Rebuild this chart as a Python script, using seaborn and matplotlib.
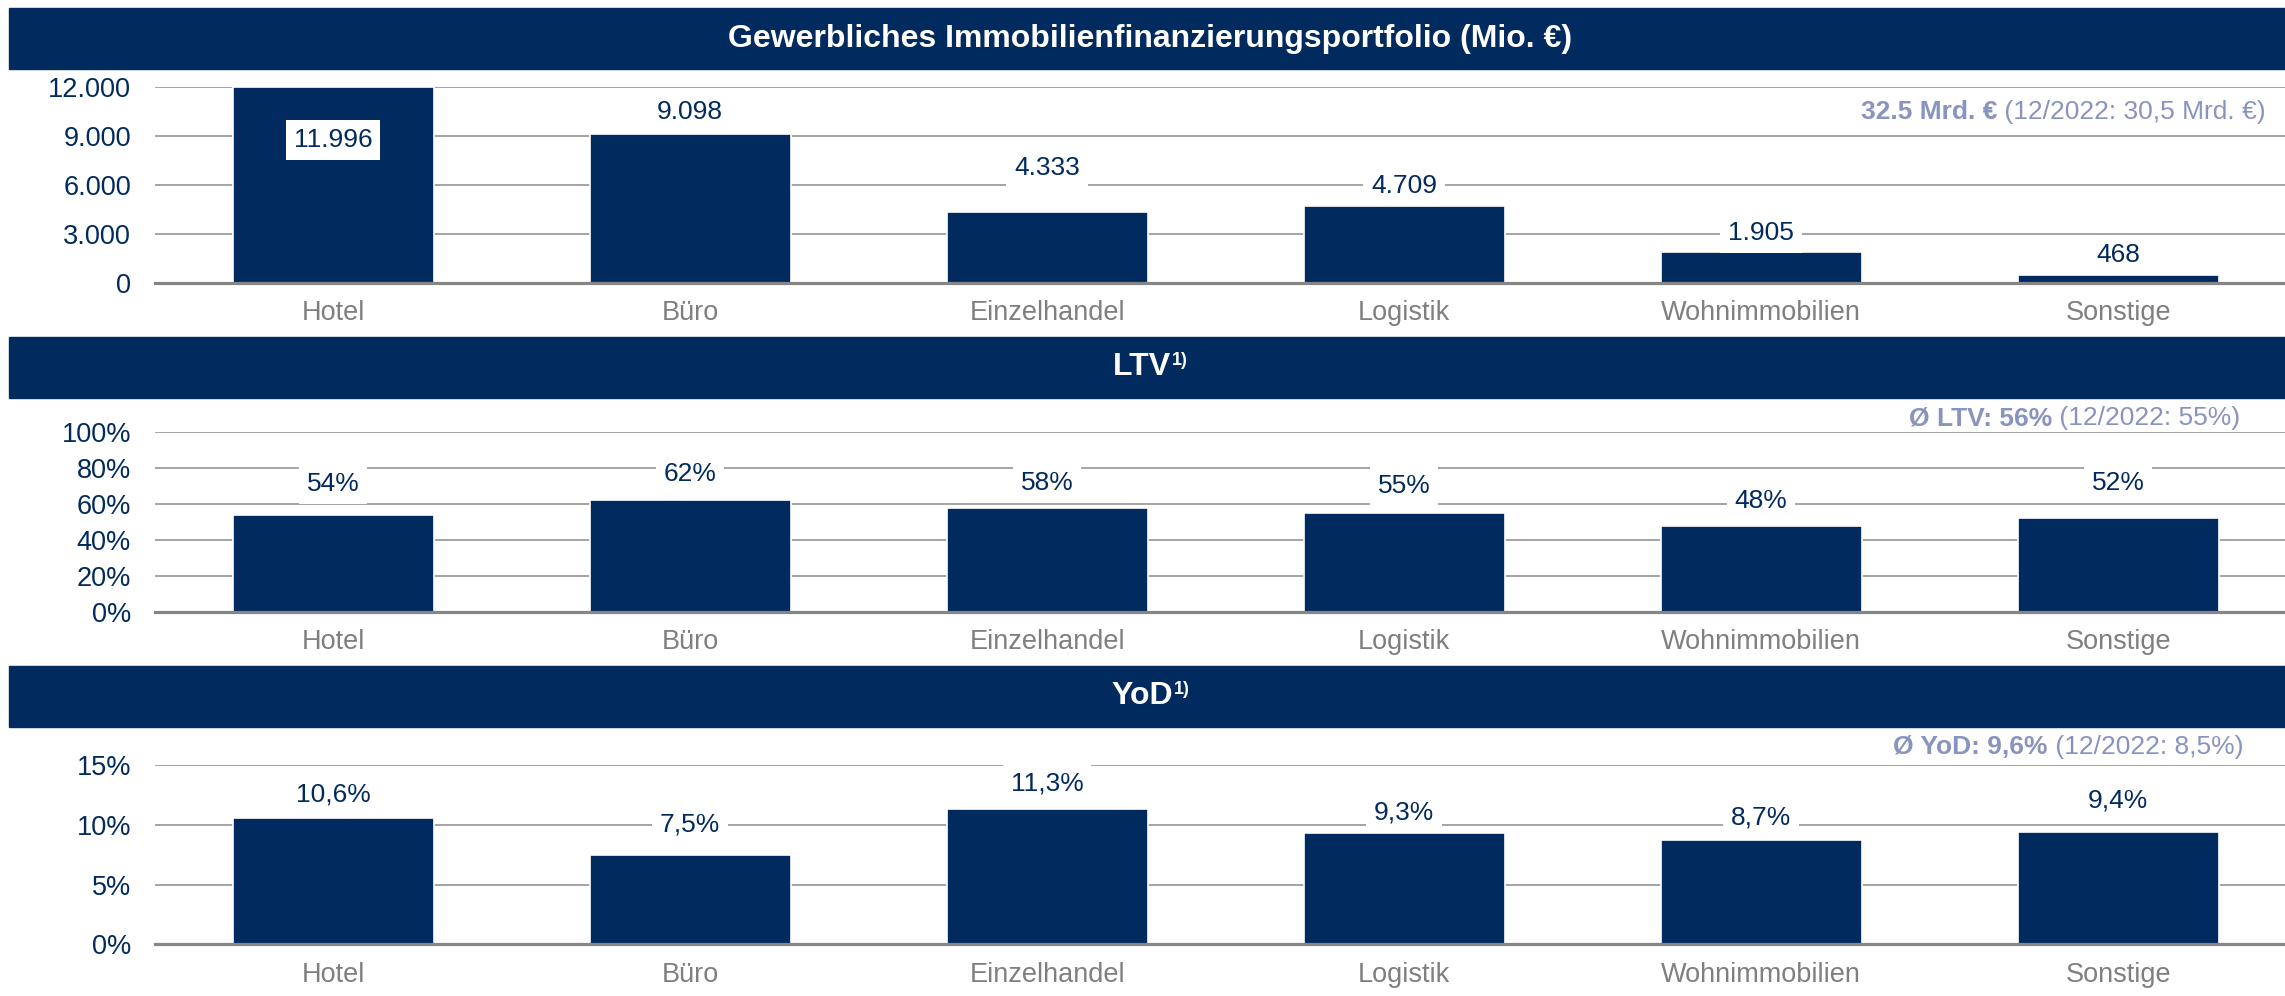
import numpy as np
import matplotlib
matplotlib.use("Agg")
import matplotlib.pyplot as plt
from matplotlib.patches import Rectangle
import seaborn as sns

# ---- data -------------------------------------------------------------
categories = ["Hotel", "Büro", "Einzelhandel", "Logistik", "Wohnimmobilien", "Sonstige"]

portfolio_mio = [11996, 9098, 4333, 4709, 1905, 468]
ltv_pct = [54, 62, 58, 55, 48, 52]
yod_pct = [10.6, 7.5, 11.3, 9.3, 8.7, 9.4]

portfolio_ticks = [0, 3000, 6000, 9000, 12000]
ltv_ticks = [0, 20, 40, 60, 80, 100]
yod_ticks = [0, 5, 10, 15]

titles = ["Gewerbliches Immobilienfinanzierungsportfolio (Mio. €)", "LTV", "YoD"]
title_notes = ["", "1)", "1)"]
summary_bold = ["32.5 Mrd. €", "Ø LTV: 56%", "Ø YoD: 9,6%"]
summary_regular = [" (12/2022: 30,5 Mrd. €)", " (12/2022: 55%)", " (12/2022: 8,5%)"]

# ---- style ------------------------------------------------------------
NAVY = "#012a5e"
GRID = "#a6a6a6"
AXIS = "#868686"
XLAB = "#7f7f7f"
NOTE = "#8993bf"

W, H, DPI = 2285, 996, 100
PT = 72 / DPI  # points per pixel

sns.set_theme(style="white")
plt.rcParams["font.family"] = ["Liberation Sans", "DejaVu Sans"]

fig = plt.figure(figsize=(W / DPI, H / DPI), dpi=DPI)
fig.patch.set_facecolor("white")


def fx(px):
    return px / W


def fy(py):
    return 1 - py / H


# panel geometry in pixels: header band, axes top/bottom, summary line
panels = [
    dict(head=(8, 69), top=86.7, bottom=282.7, note_x=2266, note_y=111.7),
    dict(head=(336.7, 397.7), top=432.3, bottom=611.7, note_x=2240, note_y=418.3),
    dict(head=(666, 726.7), top=765, bottom=944.3, note_x=2243, note_y=746.7),
]
AX_LEFT = 154.6
CAT_STEP = 357.0

values = [portfolio_mio, ltv_pct, yod_pct]
yticks = [portfolio_ticks, ltv_ticks, yod_ticks]


def fmt_mio(v):
    return f"{v:,}".replace(",", ".")


def fmt_pct(v):
    return f"{v}%"


def fmt_pct1(v):
    return f"{v:.1f}%".replace(".", ",")


def fmt_tick_mio(v):
    return f"{v:,}".replace(",", ".")


value_fmt = [fmt_mio, fmt_pct, fmt_pct1]
tick_fmt = [fmt_tick_mio, fmt_pct, fmt_pct]

# label offsets above bar tops (pixels); negative = inside the bar
label_dy = [
    [-53, 22, 44, 20, 19, 20],
    [31, 26, 25, 27, 25, 35],
    [23, 30, 26, 21, 23, 31],
]

axes = []
for k, p in enumerate(panels):
    # header band
    h0, h1 = p["head"]
    fig.add_artist(Rectangle((fx(9), fy(h1)), fx(W - 9), (h1 - h0) / H,
                             transform=fig.transFigure, color=NAVY, zorder=0))

    ax = fig.add_axes([fx(AX_LEFT), fy(p["bottom"]), fx(6 * CAT_STEP),
                       (p["bottom"] - p["top"]) / H])
    axes.append(ax)
    sns.barplot(x=categories, y=values[k], ax=ax, color=NAVY, saturation=1,
                width=0.563, edgecolor="white", linewidth=1.2, zorder=2)
    ax.set_xlim(-0.5, 5.5)
    ax.set_ylim(yticks[k][0], yticks[k][-1])
    ax.set_yticks(yticks[k])
    ax.set_yticklabels([tick_fmt[k](t) for t in yticks[k]])
    ax.set_xlabel("")
    ax.set_ylabel("")
    ax.set_axisbelow(True)
    ax.yaxis.grid(True, color=GRID, linewidth=2 * PT)
    ax.xaxis.grid(False)
    for s in ["left", "right", "top"]:
        ax.spines[s].set_visible(False)
    ax.spines["bottom"].set_color(AXIS)
    ax.spines["bottom"].set_linewidth(3.2 * PT)
    ax.spines["bottom"].set_zorder(3)
    ax.tick_params(axis="y", length=0, pad=17, labelsize=19.5, labelcolor=NAVY)
    ax.tick_params(axis="x", which="major", length=0, pad=12.5, labelsize=19.5,
                   labelcolor=XLAB)
    ax.set_xticks(np.arange(-0.5, 6, 1), minor=True)
    ax.tick_params(axis="x", which="minor", length=8 * PT, width=2.2 * PT,
                   color=AXIS, direction="out")
    ax.patch.set_alpha(0)

    # value labels
    for i, v in enumerate(values[k]):
        ax.annotate(value_fmt[k](v), xy=(i, v), xytext=(0, label_dy[k][i] * PT),
                    textcoords="offset points", ha="center", va="center",
                    fontsize=19, color=NAVY, zorder=5,
                    bbox=dict(boxstyle="square,pad=0.3", fc="white", ec="none"))

renderer = fig.canvas.get_renderer()

# header titles
CENTER_X = 1150
for k, p in enumerate(panels):
    h0, h1 = p["head"]
    yc = fy((h0 + h1) / 2)
    if title_notes[k]:
        t = fig.text(fx(CENTER_X), yc, titles[k], ha="center", va="center",
                     fontsize=23, fontweight="bold", color="white")
        bb = t.get_window_extent(renderer)
        note = fig.text(0, 0, title_notes[k], fontsize=13, fontweight="bold",
                        color="white", ha="left", va="center")
        nb = note.get_window_extent(renderer)
        total = bb.width + nb.width
        left = CENTER_X - total / 2
        t.set_ha("left")
        t.set_x(fx(left))
        note.set_position((fx(left + bb.width + 1), fy((h0 + h1) / 2 - 7)))
    else:
        fig.text(fx(CENTER_X), yc, titles[k], ha="center", va="center",
                 fontsize=23, fontweight="bold", color="white")

# summary lines (bold value + regular comparison)
for k, p in enumerate(panels):
    reg = fig.text(fx(p["note_x"]), fy(p["note_y"]), summary_regular[k],
                   ha="right", va="center", fontsize=19, color=NOTE, zorder=6)
    rb = reg.get_window_extent(renderer)
    fig.text(rb.x0 / W, fy(p["note_y"]), summary_bold[k], ha="right",
             va="center", fontsize=19, fontweight="bold", color=NOTE, zorder=6)

fig.savefig("out.png", dpi=DPI, facecolor="white")
